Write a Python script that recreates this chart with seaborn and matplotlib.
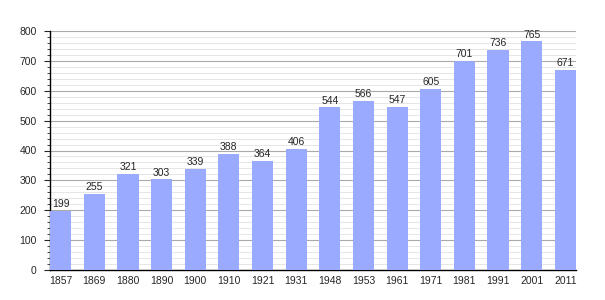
import matplotlib
matplotlib.use("Agg")
import matplotlib.pyplot as plt
import seaborn as sns
import pandas as pd
from matplotlib.ticker import MultipleLocator

years = ["1857", "1869", "1880", "1890", "1900", "1910", "1921", "1931", "1948",
         "1953", "1961", "1971", "1981", "1991", "2001", "2011"]
population = [199, 255, 321, 303, 339, 388, 364, 406, 544, 566, 547, 605, 701, 736, 765, 671]

df = pd.DataFrame({"year": years, "pop": population})

sns.set_style("white")
plt.rcParams["font.family"] = ["Liberation Sans", "DejaVu Sans"]

fig = plt.figure(figsize=(6.05, 3.0), dpi=100)
ax = fig.add_axes([50/605, 30/300, (576-50)/605, (270-31)/300])

bw = 0.63
sns.barplot(data=df, x="year", y="pop", color="#99aaff", saturation=1, width=bw,
            linewidth=0, edgecolor="none", ax=ax, zorder=3)

ax.set_xlim(-bw/2, len(years) - 1 + bw/2)
ax.set_ylim(0, 800)
ax.yaxis.set_major_locator(MultipleLocator(100))
ax.yaxis.set_minor_locator(MultipleLocator(20))
ax.grid(which="major", axis="y", color="#aaaaaa", linewidth=0.8, zorder=0)
ax.grid(which="minor", axis="y", color="#e6e6e6", linewidth=0.7, zorder=0)
ax.set_axisbelow(True)

for s in ["top", "right"]:
    ax.spines[s].set_visible(False)
for s in ["left", "bottom"]:
    ax.spines[s].set_color("black")
    ax.spines[s].set_linewidth(1.0)

ax.tick_params(axis="y", which="major", length=4, width=0.8, direction="out", labelsize=7.5, pad=5.5, left=True)
ax.tick_params(axis="y", which="minor", length=2.5, width=0.6, direction="out", left=True)
ax.tick_params(axis="x", length=0, labelsize=7.5, pad=4)
ax.set_xlabel("")
ax.set_ylabel("")

for i, v in enumerate(population):
    ax.text(i, v + 6, str(v), ha="center", va="bottom", fontsize=7.5, zorder=5)

fig.savefig("out.png", dpi=100)
